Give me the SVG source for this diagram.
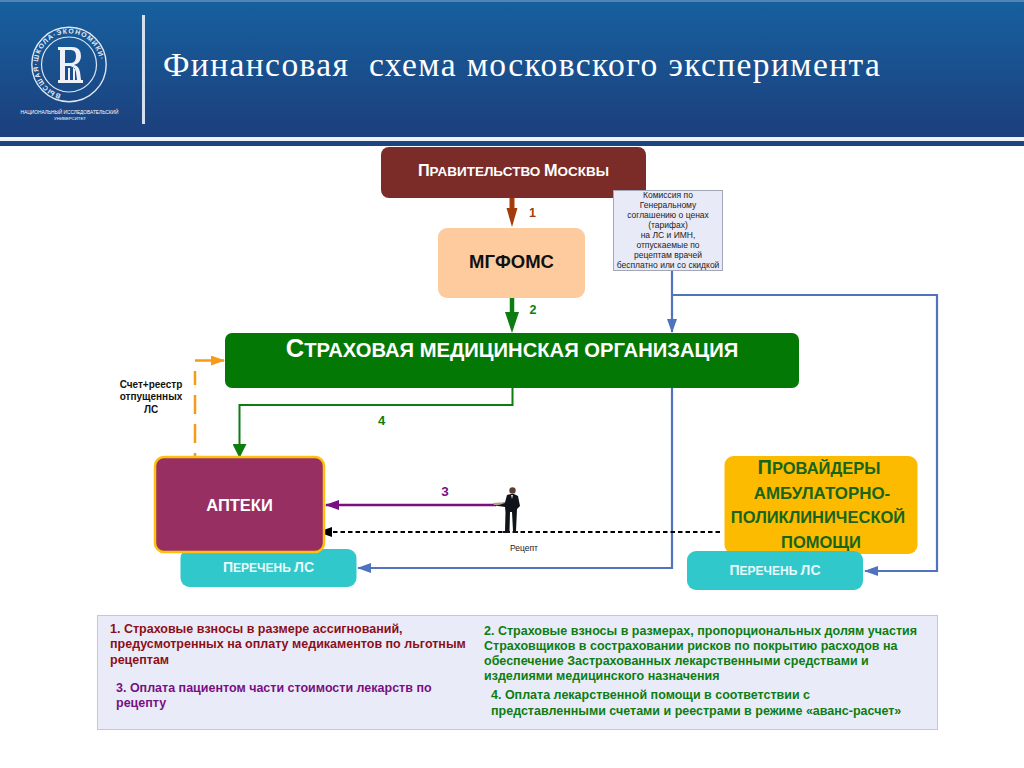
<svg xmlns="http://www.w3.org/2000/svg" width="1024" height="768" viewBox="0 0 1024 768">
<defs>
<linearGradient id="hdr" x1="0" y1="0" x2="0" y2="1"><stop offset="0" stop-color="#17609f"/><stop offset="1" stop-color="#1c3f7c"/></linearGradient>
<path id="ring" d="M 38 64.500 a 31 31 0 1 1 0 0.01"/>
<marker id="aBlue" markerWidth="14" markerHeight="10" refX="13" refY="5" orient="auto" markerUnits="userSpaceOnUse"><path d="M0 0L14 5L0 10Z" fill="#4f74bd"/></marker>
<marker id="aPurple" markerWidth="14" markerHeight="10" refX="13" refY="5" orient="auto" markerUnits="userSpaceOnUse"><path d="M0 0L14 5L0 10Z" fill="#7a0f82"/></marker>
<marker id="aBlack" markerWidth="14" markerHeight="10" refX="13" refY="5" orient="auto" markerUnits="userSpaceOnUse"><path d="M0 0L14 5L0 10Z" fill="#000"/></marker>
<marker id="aOrange" markerWidth="14" markerHeight="10" refX="13" refY="5" orient="auto" markerUnits="userSpaceOnUse"><path d="M0 0L14 5L0 10Z" fill="#f79a16"/></marker>
<marker id="aGreen" markerWidth="14" markerHeight="14" refX="13" refY="7" orient="auto" markerUnits="userSpaceOnUse"><path d="M0 0L14 7L0 14Z" fill="#0d7d12"/></marker>
</defs>
<style>
text{font-family:"Liberation Sans",Arial,sans-serif;font-weight:bold}
.c{text-anchor:middle}
.w{fill:#fff}
.note{font-size:12.5px}
.fine{font-weight:normal;font-size:8.5px;fill:#222;text-anchor:middle}
.sm{font-size:10px;fill:#111;text-anchor:middle}
.prov{fill:#17651d;text-anchor:middle;font-size:17.5px}
.blue{fill:none;stroke:#4f74bd;stroke-width:2.2}
</style>
<rect width="1024" height="768" fill="#fff"/>
<g id="header">
<rect x="0" y="1" width="1024" height="136" fill="url(#hdr)"/>
<rect x="0" y="0" width="1024" height="2" fill="#4f86b5"/>
<rect x="0" y="137" width="1024" height="4" fill="#eef3f8"/>
<rect x="0" y="141" width="1024" height="5" fill="#1d4481"/>
<rect x="142" y="15" width="3" height="109" fill="#d5e0ee"/>
<text x="163" y="76" style="font-family:'Liberation Serif',serif;font-weight:normal;font-size:33.500px;letter-spacing:1.400px" fill="#fff" xml:space="preserve">Финансовая  схема московского эксперимента</text>
</g>
<g id="logo">
<circle cx="69" cy="64.500" r="37.200" fill="none" stroke="#dfe7f2" stroke-width="1.400"/>
<circle cx="69" cy="64.500" r="27.500" fill="none" stroke="#dfe7f2" stroke-width="1.200"/>
<text transform="rotate(-75 69 64.500)" style="font-size:6.800px;letter-spacing:1.050px" fill="#e6ecf5"><textPath href="#ring">ВЫСШАЯ·ШКОЛА·ЭКОНОМИКИ·</textPath></text>
<path fill-rule="evenodd" fill="#eef2f8" d="M58 47H72Q81 47 81 56Q81 63 74 65Q79 66 80 72L81 80H83V83H58V80H60V50H58ZM65 50V63H71Q76 63 76 56Q76 50 71 50ZM65 66V80H68V68H70V80H73V68H75V80H77L76 72Q75 67 70 66Z"/>
<text x="69.500" y="114" class="c w" style="font-size:4.800px;font-weight:normal">НАЦИОНАЛЬНЫЙ ИССЛЕДОВАТЕЛЬСКИЙ</text>
<text x="70" y="120" class="c w" style="font-size:4.300px;font-weight:normal">УНИВЕРСИТЕТ</text>
</g>
<g id="connectors" fill="none">
<path d="M512 197V210" stroke="#a33c0c" stroke-width="5"/><path d="M506.500 208H517.500L512 227Z" fill="#a33c0c"/>
<path d="M512 297V313" stroke="#0d7d12" stroke-width="4.500"/><path d="M505 312H519L512 333Z" fill="#0d7d12"/>
<path d="M512.500 388V405H239.500V457" stroke="#0d7d12" stroke-width="2" marker-end="url(#aGreen)"/>
<path d="M195 457V371" stroke="#f79a16" stroke-width="2.500" stroke-dasharray="4 10 19 10 19 10 19 10"/>
<path d="M195 360.500H224" stroke="#f79a16" stroke-width="2.500" marker-end="url(#aOrange)"/>
<path d="M672 270V332" class="blue" marker-end="url(#aBlue)"/>
<path d="M672 295H937V571H865" class="blue" marker-end="url(#aBlue)"/>
<path d="M672 388V568H358" class="blue" marker-end="url(#aBlue)"/>
<path d="M496 505H326" stroke="#7a0f82" stroke-width="2.500" marker-end="url(#aPurple)"/>
<path d="M720 532H319" stroke="#000" stroke-width="2" stroke-dasharray="4.500 3" marker-end="url(#aBlack)"/>
</g>
<g id="node-pravitelstvo">
<rect x="381" y="147" width="265" height="51" rx="8" fill="#7b2c28"/>
<text x="513.500" y="176" class="c w" style="font-size:13.500px"><tspan font-size="16.300">П</tspan>РАВИТЕЛЬСТВО <tspan font-size="16.300">М</tspan>ОСКВЫ</text>
</g>
<g id="node-komissiya">
<rect x="613.500" y="190.500" width="109" height="80" fill="#e8ebf7" stroke="#a3a6b4"/>
<text class="fine"><tspan x="668" y="198">Комиссия по</tspan><tspan x="668" y="208">Генеральному</tspan><tspan x="668" y="218">соглашению о ценах</tspan><tspan x="668" y="228">(тарифах)</tspan><tspan x="668" y="238">на ЛС и ИМН,</tspan><tspan x="668" y="248">отпускаемые по</tspan><tspan x="668" y="258">рецептам врачей</tspan><tspan x="668" y="268">бесплатно или со скидкой</tspan></text>
</g>
<g id="node-mgfoms">
<rect x="438" y="228" width="147" height="70" rx="9" fill="#fdcb9d"/>
<text x="511.500" y="268" class="c" style="font-size:18.500px" fill="#111">МГФОМС</text>
</g>
<g id="node-smo">
<rect x="225" y="333" width="574" height="55" rx="7" fill="#047804"/>
<text x="512" y="357" class="c w" style="font-size:20.200px"><tspan font-size="25.500">С</tspan>ТРАХОВАЯ МЕДИЦИНСКАЯ ОРГАНИЗАЦИЯ</text>
</g>
<g id="node-perechen1">
<rect x="180.500" y="549" width="176" height="38" rx="9" fill="#31c8cc"/>
<text x="268.500" y="572" class="c" style="font-size:12px" fill="#e8fafa"><tspan font-size="14">П</tspan>ЕРЕЧЕНЬ <tspan font-size="14">ЛС</tspan></text>
</g>
<g id="node-apteki">
<rect x="155" y="457" width="169" height="95" rx="9" fill="#982f63" stroke="#fdbf10" stroke-width="2.500"/>
<text x="239.500" y="511" class="c w" style="font-size:16.500px">АПТЕКИ</text>
</g>
<g id="node-provaidery">
<rect x="724.500" y="456" width="193" height="98" rx="9" fill="#fdbb00"/>
<text class="prov"><tspan x="819" y="474" font-size="20">П</tspan><tspan font-size="16.500">РОВАЙДЕРЫ</tspan><tspan x="822" y="499" font-size="16.900">АМБУЛАТОРНО-</tspan><tspan x="818" y="523" font-size="16.500">ПОЛИКЛИНИЧЕСКОЙ</tspan><tspan x="821" y="548" font-size="16.500">ПОМОЩИ</tspan></text>
</g>
<g id="node-perechen2">
<rect x="687" y="551" width="176" height="39" rx="9" fill="#31c8cc"/>
<text x="775" y="575" class="c" style="font-size:12px" fill="#e8fafa"><tspan font-size="14">П</tspan>ЕРЕЧЕНЬ <tspan font-size="14">ЛС</tspan></text>
</g>
<g id="node-person">
<circle cx="512.500" cy="490.500" r="3.200" fill="#5a3f30"/>
<path d="M507 495L511 494L514 494L518 496L520 506L517 509L516.500 520L516 531H513L512 512L510 512L509.500 531H505L505.500 512L505 507L495 505.500L495 503.500L505 502.500Z" fill="#10131a"/>
<path d="M493 503L499 502.500L505 503L499 505L494 505Z" fill="#b99b86"/>
<path d="M511 495L513 495L512 499Z" fill="#dfe3ea"/>
<path d="M503 531H510V533H503ZM512.500 531H518V533H512.500Z" fill="#10131a"/>
</g>
<g id="labels">
<text x="532.500" y="217" class="c" style="font-size:12.500px" fill="#a33c0c">1</text>
<text x="533" y="314" class="c" style="font-size:12.500px" fill="#0d7d12">2</text>
<text x="381.500" y="425" class="c" style="font-size:13px" fill="#0d7d12">4</text>
<text x="445" y="496" class="c" style="font-size:13.500px" fill="#7a0f82">3</text>
<text class="sm"><tspan x="151" y="388">Счет+реестр</tspan><tspan x="151" y="400">отпущенных</tspan><tspan x="151" y="413">ЛС</tspan></text>
<text x="524" y="551" class="c" style="font-size:8.500px;font-weight:normal" fill="#222">Рецепт</text>
</g>
<g id="legend">
<rect x="97.500" y="615.500" width="840" height="114" fill="#e9ecf8" stroke="#c9c6d4"/>
<text class="note" fill="#8c0f18"><tspan x="110" y="633">1. Страховые взносы в размере ассигнований,</tspan><tspan x="110" y="648">предусмотренных на оплату медикаментов по льготным</tspan><tspan x="110" y="664">рецептам</tspan></text>
<text class="note" fill="#7a0f82"><tspan x="116" y="692">3. Оплата пациентом части стоимости лекарств по</tspan><tspan x="116" y="707">рецепту</tspan></text>
<text class="note" fill="#0d7d12"><tspan x="484" y="635">2. Страховые взносы в размерах, пропорциональных долям участия</tspan><tspan x="484" y="650">Страховщиков в состраховании рисков по покрытию расходов на</tspan><tspan x="484" y="665">обеспечение Застрахованных лекарственными средствами и</tspan><tspan x="484" y="680">изделиями медицинского назначения</tspan></text>
<text class="note" fill="#0d7d12"><tspan x="491" y="699">4. Оплата лекарственной помощи в соответствии с</tspan><tspan x="491" y="715">представленными счетами и реестрами в режиме «аванс-расчет»</tspan></text>
</g>
</svg>
